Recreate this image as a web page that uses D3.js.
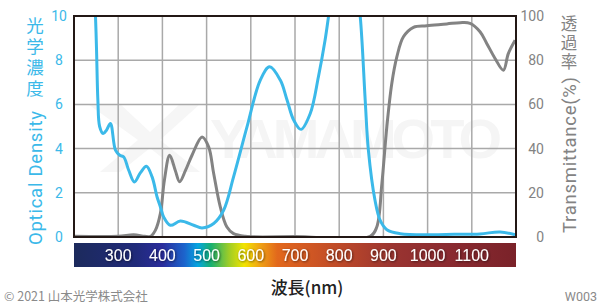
<!DOCTYPE html>
<html>
<head>
<meta charset="utf-8">
<script src="https://cdn.jsdelivr.net/npm/d3@7"></script>
<style>
  body { margin: 0; background: #fff; }
  svg { display: block; }
</style>
</head>
<body>
<div class="chart"></div>
<script>
// chart values (wavelength in nm)
var odWavelength = [244, 248.6, 251, 254, 258, 266, 274, 282.5, 293.8, 303.5, 312.5, 323.8, 336.7, 350, 363.8, 376.7, 388, 395.5, 403, 418, 440.7, 470.7, 489.7, 516, 538.5, 561, 591.4, 621.5, 642.5, 666.7, 682, 697, 713.5, 734.5, 753, 768, 776, 790, 835, 847.5, 858.8, 866, 881, 892.5, 907.8, 938, 1005.7, 1060, 1118.6, 1164, 1198];
var odValues = [12, 10, 8.46, 6.2, 5.0, 4.68, 4.85, 5.14, 3.93, 3.7, 3.62, 3.02, 2.49, 2.9, 3.2, 2.72, 1.81, 1.36, 0.9, 0.53, 0.72, 0.53, 0.41, 0.61, 1.21, 2.72, 4.98, 7.1, 7.7, 7.1, 6.2, 5.29, 4.87, 5.59, 7.25, 8.9, 10, 12, 12, 10, 6.2, 3.93, 1.66, 0.76, 0.33, 0.15, 0.1, 0.12, 0.14, 0.23, 0.1];

var tWavelength = [200, 300, 335, 360, 373, 384, 395.5, 404.5, 416.5, 429.4, 439, 452, 467, 489.7, 504.6, 516, 531, 546, 561, 587.6, 700, 870, 885, 896.5, 907.8, 919, 930.4, 945.3, 968, 998, 1043.4, 1073.5, 1096, 1118.6, 1133.8, 1152.6, 1171.4, 1182.6, 1198];
var tValues = [0.3, 0.3, 1, 0.3, 0.3, 3, 10.7, 25.7, 37, 30, 25, 30, 37, 45.3, 40.8, 28.7, 13.6, 4.5, 1.5, 0.3, 0.2, 0.3, 4.5, 24, 50, 69.5, 81.5, 90.6, 94.9, 95.6, 96.4, 97, 96.7, 92.9, 87.6, 80.8, 75.5, 83, 89];

var xTicks = [300, 400, 500, 600, 700, 800, 900, 1000, 1100];
var odTicks = [0, 2, 4, 6, 8, 10];
var tTicks = [0, 20, 40, 60, 80, 100];

// colour bar stops: wavelength and colour
var barStopWl = [200, 340, 400, 450, 480, 510, 550, 585, 620, 660, 720, 820, 920, 1050, 1200];
var barStopColor = ["#1c2a5c", "#202a7a", "#2a2c9c", "#1c64cc", "#05a5e0", "#18b070", "#9ccc28", "#f2e400", "#f0a414", "#e2681c", "#d45a22", "#b8462a", "#9a3430", "#8a2a30", "#7a2229"];

var svgWidth = 600;
var svgHeight = 308;

var plot = { left: 74, right: 516, top: 16, bottom: 237 };

var cyan = "#3bb9e9";
var gray = "#838383";

var svg = d3.select(".chart")
    .append("svg")
    .attr("width", svgWidth)
    .attr("height", svgHeight);

var x = d3.scaleLinear().domain([200, 1200]).range([plot.left, plot.right]);
var yOD = d3.scaleLinear().domain([0, 10]).range([plot.bottom, plot.top]);
var yT = d3.scaleLinear().domain([0, 100]).range([plot.bottom, plot.top]);

// watermark
svg.append("text")
    .attr("x", 210)
    .attr("y", 158)
    .attr("textLength", 292)
    .attr("font-family", "Liberation Sans, Arial, sans-serif")
    .attr("font-weight", "bold")
    .attr("font-size", 56)
    .attr("fill", "#f5f5f5")
    .text("YAMAMOTO");

svg.append("path")
    .attr("d", "M88,104 L120,104 L150,132 L180,104 L200,104 L160,140 L200,172 L180,172 L150,148 L120,172 L100,172 L138,140 Z")
    .attr("fill", "#f6f6f6");

// grid
var grid = svg.append("g");
grid.selectAll(".vgrid")
    .data(xTicks)
    .enter()
    .append("line")
    .attr("x1", d => x(d))
    .attr("x2", d => x(d))
    .attr("y1", plot.top)
    .attr("y2", plot.bottom)
    .attr("stroke", "#a9a9a9")
    .attr("stroke-width", 1.5);

grid.selectAll(".hgrid")
    .data(odTicks.slice(1, -1))
    .enter()
    .append("line")
    .attr("x1", plot.left)
    .attr("x2", plot.right)
    .attr("y1", d => yOD(d))
    .attr("y2", d => yOD(d))
    .attr("stroke", "#a9a9a9")
    .attr("stroke-width", 1.5);

// clip
svg.append("clipPath")
    .attr("id", "clip")
    .append("rect")
    .attr("x", plot.left)
    .attr("y", plot.top)
    .attr("width", plot.right - plot.left)
    .attr("height", plot.bottom - plot.top);

var lineOD = d3.line()
    .x(d => x(d[0]))
    .y(d => yOD(d[1]))
    .curve(d3.curveCatmullRom.alpha(0.5));

var lineT = d3.line()
    .x(d => x(d[0]))
    .y(d => yT(d[1]))
    .curve(d3.curveCatmullRom.alpha(0.5));

var curves = svg.append("g").attr("clip-path", "url(#clip)");

curves.append("path")
    .datum(tWavelength.map((w, i) => [w, tValues[i]]))
    .attr("d", lineT)
    .attr("fill", "none")
    .attr("stroke", gray)
    .attr("stroke-width", 3);

curves.append("path")
    .datum(odWavelength.map((w, i) => [w, odValues[i]]))
    .attr("d", lineOD)
    .attr("fill", "none")
    .attr("stroke", cyan)
    .attr("stroke-width", 3);

// frame
svg.append("rect")
    .attr("x", plot.left)
    .attr("y", plot.top)
    .attr("width", plot.right - plot.left)
    .attr("height", plot.bottom - plot.top)
    .attr("fill", "none")
    .attr("stroke", "#231815")
    .attr("stroke-width", 2);

// left axis
var leftAxis = svg.append("g")
    .attr("transform", "translate(" + plot.left + ",0)")
    .call(d3.axisLeft(yOD).tickValues(odTicks).tickSize(0).tickPadding(15));
leftAxis.select(".domain").remove();
leftAxis.selectAll("text")
    .attr("text-anchor", "middle")
    .attr("font-family", "Roboto, sans-serif")
    .attr("font-size", 14)
    .attr("fill", cyan);

// right axis
var rightAxis = svg.append("g")
    .attr("transform", "translate(" + plot.right + ",0)")
    .call(d3.axisRight(yT).tickValues(tTicks).tickSize(0).tickPadding(28));
rightAxis.select(".domain").remove();
rightAxis.selectAll("text")
    .attr("text-anchor", "end")
    .attr("font-family", "Roboto, sans-serif")
    .attr("font-size", 14)
    .attr("fill", gray);

// colour bar
var grad = svg.append("defs").append("linearGradient")
    .attr("id", "spectrum")
    .attr("x1", "0%").attr("x2", "100%");
grad.selectAll("stop")
    .data(barStopWl)
    .enter()
    .append("stop")
    .attr("offset", d => ((d - 200) / 1000 * 100) + "%")
    .attr("stop-color", (d, i) => barStopColor[i]);

var shadow = svg.append("filter").attr("id", "shadow")
    .attr("x", "-20%").attr("y", "-20%").attr("width", "140%").attr("height", "140%");
shadow.append("feDropShadow")
    .attr("dx", 0.8).attr("dy", 0.8).attr("stdDeviation", 0.8)
    .attr("flood-color", "#000").attr("flood-opacity", 0.6);

svg.append("rect")
    .attr("x", plot.left)
    .attr("y", 243)
    .attr("width", plot.right - plot.left)
    .attr("height", 24)
    .attr("fill", "url(#spectrum)");

svg.append("g")
    .selectAll("text")
    .data(xTicks)
    .enter()
    .append("text")
    .attr("x", d => x(d))
    .attr("y", 261)
    .attr("text-anchor", "middle")
    .attr("font-family", "Liberation Sans, Arial, sans-serif")
    .attr("font-size", 16)
    .attr("fill", "#fff")
    .attr("filter", "url(#shadow)")
    .text(d => d);

// axis titles
var cjk = "'Noto Sans CJK JP', sans-serif";

// vertical CJK titles (upright characters)
svg.append("text")
    .attr("x", 35)
    .attr("y", 17)
    .style("writing-mode", "vertical-rl")
    .style("letter-spacing", "3.5px")
    .attr("font-family", cjk)
    .attr("font-size", 17.5)
    .attr("fill", cyan)
    .text("光学濃度");

svg.append("text")
    .attr("transform", "translate(42,245) rotate(-90)")
    .attr("font-family", "Roboto, sans-serif")
    .attr("font-size", 18.5)
    .attr("textLength", 134)
    .attr("fill", cyan)
    .text("Optical Density");

svg.append("text")
    .attr("x", 569)
    .attr("y", 15)
    .style("writing-mode", "vertical-rl")
    .style("letter-spacing", "2.5px")
    .attr("font-family", cjk)
    .attr("font-size", 16.5)
    .attr("fill", gray)
    .text("透過率");

svg.append("text")
    .attr("transform", "translate(576,233) rotate(-90)")
    .attr("font-family", "Roboto, sans-serif")
    .attr("font-size", 18.5)
    .attr("textLength", 156)
    .attr("fill", gray)
    .text("Transmittance(%)");

svg.append("text")
    .attr("x", 307)
    .attr("y", 294)
    .attr("text-anchor", "middle")
    .attr("font-family", cjk)
    .attr("font-weight", 500)
    .attr("font-size", 17)
    .attr("fill", "#222")
    .text("波長(nm)");

svg.append("text")
    .attr("x", 4)
    .attr("y", 301)
    .attr("font-family", cjk)
    .attr("font-size", 12.5)
    .attr("fill", "#8a8a8a")
    .text("© 2021 山本光学株式会社");

svg.append("text")
    .attr("x", 597)
    .attr("y", 301)
    .attr("text-anchor", "end")
    .attr("font-family", "Roboto, sans-serif")
    .attr("font-size", 12.5)
    .attr("fill", "#8a8a8a")
    .text("W003");
</script>
</body>
</html>
